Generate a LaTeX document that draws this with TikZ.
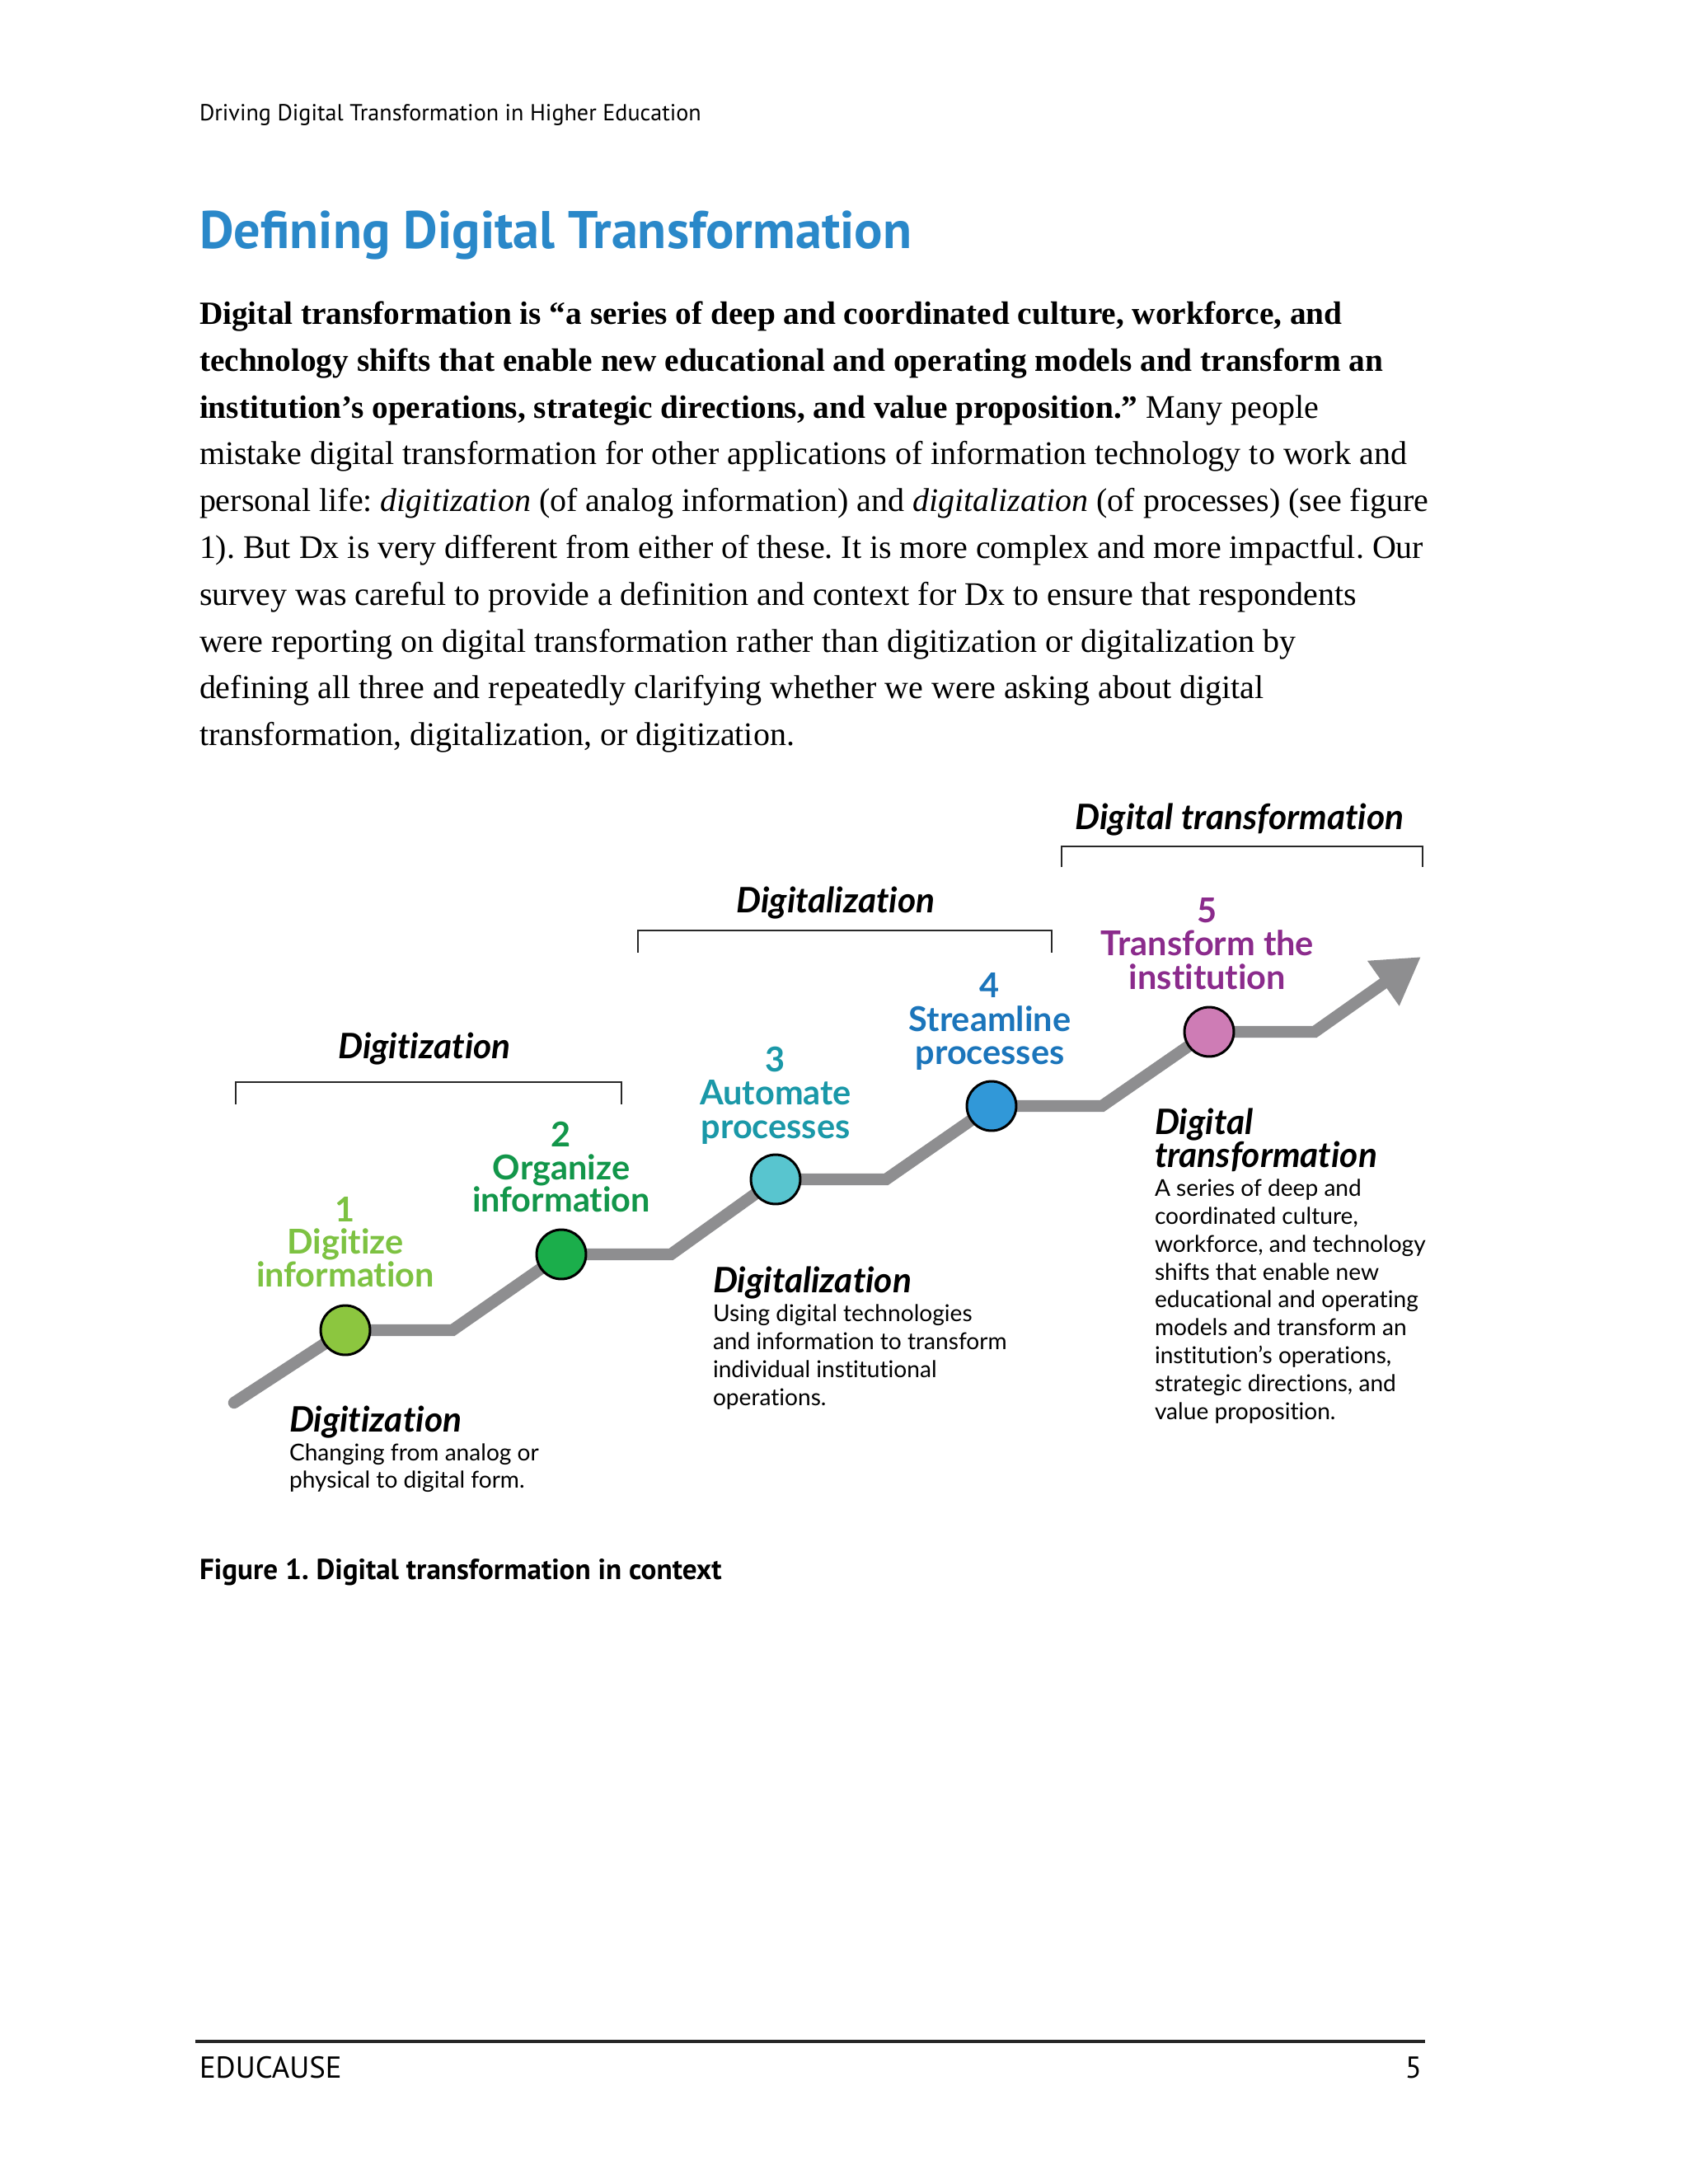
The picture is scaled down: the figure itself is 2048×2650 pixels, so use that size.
\documentclass[tikz,border=0pt]{standalone}
\usepackage{fontspec}
\setmainfont{Liberation Serif}
\newfontfamily\dinfont{PT Sans}
\newfontfamily\figfont[Ligatures=NoCommon]{Lato}
\usetikzlibrary{arrows.meta,backgrounds}
\frenchspacing
\definecolor{titleblue}{RGB}{42,136,201}
\definecolor{trackgray}{RGB}{142,142,144}
\definecolor{bracketgray}{RGB}{40,40,40}
\definecolor{fillA}{RGB}{140,198,63}
\definecolor{fillB}{RGB}{27,174,75}
\definecolor{fillC}{RGB}{88,197,207}
\definecolor{fillD}{RGB}{49,152,216}
\definecolor{fillE}{RGB}{206,124,181}
\definecolor{textA}{RGB}{125,194,66}
\definecolor{textB}{RGB}{18,150,74}
\definecolor{textC}{RGB}{26,152,168}
\definecolor{textD}{RGB}{27,117,187}
\definecolor{textE}{RGB}{139,43,140}
\newcommand{\bodybold}{\bfseries\fontsize{11.75}{13}\selectfont}
\tikzset{
  every node/.style={inner sep=0pt, outer sep=0pt},
  bodyline/.style={anchor=base west, font=\fontsize{11.95}{13}\selectfont},
  headtext/.style={anchor=base west, font=\dinfont\fontsize{8.4}{10}\selectfont},
  titletext/.style={anchor=base west, text=titleblue, font=\dinfont\bfseries\fontsize{19.2}{22}\selectfont},
  captiontext/.style={anchor=base west, font=\dinfont\bfseries\fontsize{10.5}{12}\selectfont},
  foottext/.style={font=\dinfont\fontsize{11}{13}\selectfont},
  stagelbl/.style={anchor=base, font=\figfont\bfseries\fontsize{12.4}{14}\selectfont},
  brklbl/.style={anchor=base, font=\figfont\bfseries\itshape\fontsize{12.7}{14}\selectfont},
  desctitle/.style={anchor=base west, font=\figfont\bfseries\itshape\fontsize{12.7}{14}\selectfont},
  descline/.style={anchor=base west, font=\figfont\fontsize{8.4}{10}\selectfont},
  dot/.style={circle, draw=black, line width=0.9pt, minimum size=17.9pt},
  track/.style={draw=trackgray, line width=4.3pt, line join=miter, line cap=round},
  brk/.style={draw=bracketgray, line width=0.8pt},
}
\begin{document}
\begin{tikzpicture}[x=0.29883pt, y=-0.29883pt]
\useasboundingbox (0,0) rectangle (2048,2650);
\begin{pgfonlayer}{background}
\fill[white] (0,0) rectangle (2048,2650);
\end{pgfonlayer}

% header, title
\node[headtext] (hdr) at (242,146) {Driving Digital Transformation in Higher Education};
\node[titletext] (ttl) at (242,301) {Defining Digital Transformation};

% body paragraph
\node[bodyline] (p1) at (242,393) {\bodybold Digital transformation is “a series of deep and coordinated culture, workforce, and};
\node[bodyline] (p2) at (242,450) {\bodybold technology shifts that enable new educational and operating models and transform an};
\node[bodyline] (p3) at (242,507) {{\bodybold institution’s operations, strategic directions, and value proposition.”} Many people};
\node[bodyline] (p4) at (242,563) {mistake digital transformation for other applications of information technology to work and};
\node[bodyline] (p5) at (242,620) {personal life: \emph{digitization} (of analog information) and \emph{digitalization} (of processes) (see figure};
\node[bodyline] (p6) at (242,677) {1). But Dx is very different from either of these. It is more complex and more impactful. Our};
\node[bodyline] (p7) at (242,734) {survey was careful to provide a definition and context for Dx to ensure that respondents};
\node[bodyline] (p8) at (242,791) {were reporting on digital transformation rather than digitization or digitalization by};
\node[bodyline] (p9) at (242,847) {defining all three and repeatedly clarifying whether we were asking about digital};
\node[bodyline] (p10) at (242,904) {transformation, digitalization, or digitization.};

% brackets
\draw[brk] (1288,1052) -- (1288,1027) -- (1726,1027) -- (1726,1052);
\draw[brk] (774,1156) -- (774,1129) -- (1276,1129) -- (1276,1156);
\draw[brk] (286,1340) -- (286,1313) -- (754,1313) -- (754,1340);
\node[brklbl] (bDT) at (1504,1006) {Digital transformation};
\node[brklbl] (bDL) at (1014,1107) {Digitalization};
\node[brklbl] (bDG) at (515,1284) {Digitization};

% staircase
\node[dot, fill=fillA] (c1) at (419,1614) {};
\node[dot, fill=fillB] (c2) at (681,1522) {};
\node[dot, fill=fillC] (c3) at (941,1431) {};
\node[dot, fill=fillD] (c4) at (1203,1342) {};
\node[dot, fill=fillE] (c5) at (1467,1252) {};
\coordinate (s0) at (284,1702);
\coordinate (b1) at (549,1614);
\coordinate (b2) at (814,1522);
\coordinate (b3) at (1075,1431);
\coordinate (b4) at (1337,1342);
\coordinate (b5) at (1595,1252);
\coordinate (tip) at (1724,1161);
\begin{pgfonlayer}{background}
\draw[track, -{Triangle[length=16.7pt,width=18.8pt]}] (s0) -- (c1.center) -- (b1) -- (c2.center) -- (b2) -- (c3.center) -- (b3) -- (c4.center) -- (b4) -- (c5.center) -- (b5) -- (tip);
\end{pgfonlayer}

% stage labels
\node[stagelbl, text=textA] (n1) at (419,1482) {1};
\node[stagelbl, text=textA] (n1a) at (419,1521) {Digitize};
\node[stagelbl, text=textA] (n1b) at (419,1561) {information};
\node[stagelbl, text=textB] (n2) at (681,1391) {2};
\node[stagelbl, text=textB] (n2a) at (681,1431) {Organize};
\node[stagelbl, text=textB] (n2b) at (681,1470) {information};
\node[stagelbl, text=textC] (n3) at (941,1300) {3};
\node[stagelbl, text=textC] (n3a) at (941,1340) {Automate};
\node[stagelbl, text=textC] (n3b) at (941,1381) {processes};
\node[stagelbl, text=textD] (n4) at (1201,1210) {4};
\node[stagelbl, text=textD] (n4a) at (1201,1251) {Streamline};
\node[stagelbl, text=textD] (n4b) at (1201,1291) {processes};
\node[stagelbl, text=textE] (n5) at (1465,1119) {5};
\node[stagelbl, text=textE] (n5a) at (1465,1159) {Transform the};
\node[stagelbl, text=textE] (n5b) at (1465,1200) {institution};

% descriptions
\node[desctitle] (dg0) at (351,1737) {Digitization};
\node[descline] (dg1) at (351,1772) {Changing from analog or};
\node[descline] (dg2) at (351,1805) {physical to digital form.};

\node[desctitle] (dl0) at (865,1568) {Digitalization};
\node[descline] (dl1) at (865,1603) {Using digital technologies};
\node[descline] (dl2) at (865,1637) {and information to transform};
\node[descline] (dl3) at (865,1671) {individual institutional};
\node[descline] (dl4) at (865,1705) {operations.};

\node[desctitle] (dt0) at (1401,1376) {Digital};
\node[desctitle] (dt00) at (1401,1416) {transformation};
\node[descline] (dt1) at (1401,1451) {A series of deep and};
\node[descline] (dt2) at (1401,1485) {coordinated culture,};
\node[descline] (dt3) at (1401,1519) {workforce, and technology};
\node[descline] (dt4) at (1401,1553) {shifts that enable new};
\node[descline] (dt5) at (1401,1586) {educational and operating};
\node[descline] (dt6) at (1401,1620) {models and transform an};
\node[descline] (dt7) at (1401,1654) {institution’s operations,};
\node[descline] (dt8) at (1401,1688) {strategic directions, and};
\node[descline] (dt9) at (1401,1722) {value proposition.};

% caption
\node[captiontext] (cap) at (242,1916) {Figure 1. Digital transformation in context};

% footer
\coordinate (fl) at (237,2477);
\coordinate (fr) at (1729,2477);
\draw[line width=1.3pt, black!85] (fl) -- (fr);
\node[foottext, anchor=base west] (fe) at (242,2521) {EDUCAUSE};
\node[foottext, anchor=base east] (fn) at (1725,2521) {5};
\end{tikzpicture}
\end{document}
